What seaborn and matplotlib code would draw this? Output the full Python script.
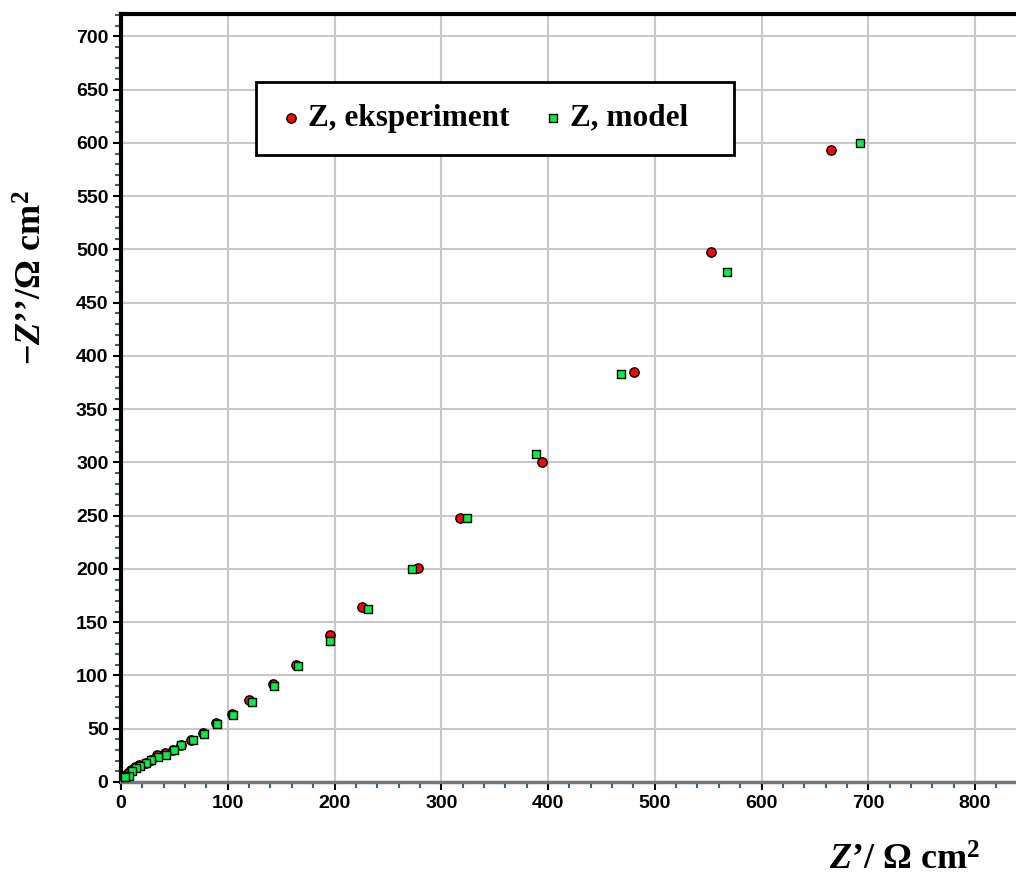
import matplotlib
matplotlib.use('Agg')
import matplotlib.pyplot as plt
import seaborn as sns
from matplotlib.ticker import MultipleLocator

# impedance data (Ohm cm2)
exp_re = [665, 553, 481, 394, 318, 278, 226, 196, 164, 142, 120, 104, 89, 77,
          66, 56, 49, 41, 34, 28, 23, 17, 13, 9.4, 6.9, 2.8]
exp_im = [593, 498, 385, 300, 248, 201, 164, 137.6, 110, 92, 77, 64, 55, 46,
          39.5, 35, 30.5, 27.6, 25, 21, 18.3, 16, 13.8, 11, 8, 5.5]
mod_re = [692, 568, 468, 389, 324, 273, 231, 196, 166, 143, 123, 105, 90, 78,
          67, 56.5, 49.3, 41.8, 34.7, 28.4, 23.4, 17.8, 14, 10, 7.5, 3.7]
mod_im = [600, 479, 383, 308, 248, 199.5, 162, 132, 109, 90, 75, 63, 54, 45,
          39, 34.3, 29.6, 25, 23.6, 20.5, 17.4, 14.8, 12.7, 10, 5.5, 4.5]

sns.set_style('white')
plt.rcParams['text.color'] = 'black'
plt.rcParams['xtick.color'] = 'black'
plt.rcParams['ytick.color'] = 'black'
plt.rcParams['mathtext.fontset'] = 'custom'
plt.rcParams['mathtext.it'] = 'Liberation Serif:bold:italic'
plt.rcParams['mathtext.rm'] = 'Liberation Serif:bold'
plt.rcParams['mathtext.bf'] = 'Liberation Serif:bold'

fig = plt.figure(figsize=(10.16, 8.76), dpi=100)
ax = fig.add_axes([121 / 1016, 1 - 782 / 876, 895 / 1016, 768 / 876])

sns.scatterplot(x=exp_re, y=exp_im, ax=ax, marker='o', s=45, color='#ff0000',
                edgecolor='black', linewidth=1, label='Z, eksperiment', zorder=3)
sns.scatterplot(x=mod_re, y=mod_im, ax=ax, marker='s', s=28, color='#00ee44',
                edgecolor='black', linewidth=1, label='Z, model   ', zorder=4)

ax.set_xlim(0, 838.4)
ax.set_ylim(0, 721)
ax.xaxis.set_major_locator(MultipleLocator(100))
ax.xaxis.set_minor_locator(MultipleLocator(20))
ax.yaxis.set_major_locator(MultipleLocator(50))
ax.yaxis.set_minor_locator(MultipleLocator(10))
ax.grid(True, which='major', color='#c8c8c8', linewidth=1.5)
ax.set_axisbelow(True)

for side in ['top', 'left']:
    ax.spines[side].set_color('black')
    ax.spines[side].set_linewidth(3)
ax.spines['bottom'].set_color('#777777')
ax.spines['bottom'].set_linewidth(2.5)
ax.spines['right'].set_visible(False)

ax.tick_params(which='major', direction='out', length=6, width=1.5, color='black',
               pad=3, bottom=True, left=True, labelcolor='black')
ax.tick_params(which='minor', direction='out', length=4.5, width=1.5, color='#2f6b6b',
               bottom=True, left=True)
for lab in ax.get_xticklabels() + ax.get_yticklabels():
    lab.set_fontfamily('Liberation Sans')
    lab.set_fontweight('bold')
    lab.set_fontsize(14)
ax.set_xlabel('')
ax.set_ylabel('')

leg = ax.legend(loc='upper left', bbox_to_anchor=(0.151, 0.9115), ncol=2,
                frameon=True, fancybox=False, edgecolor='black', framealpha=1,
                borderpad=0.7, handlelength=0.8, handletextpad=0.15,
                columnspacing=1.0, markerscale=1.0, borderaxespad=0,
                prop={'family': 'Liberation Serif', 'weight': 'bold', 'size': 22.5})
leg.get_frame().set_linewidth(2)

fig.text(905 / 1016, 6 / 876, '$Z$\u2019/ \u03a9 cm$^{2}$', ha='center',
         va='baseline', fontsize=26, fontfamily='Liberation Serif', fontweight='bold')
fig.text(33 / 1016, 1 - 278 / 876, '\u2212$Z$\u2019\u2019/\u03a9 cm$^{2}$', ha='center',
         va='center', rotation=90, fontsize=26, fontfamily='Liberation Serif',
         fontweight='bold')

fig.savefig('out.png', dpi=100)
